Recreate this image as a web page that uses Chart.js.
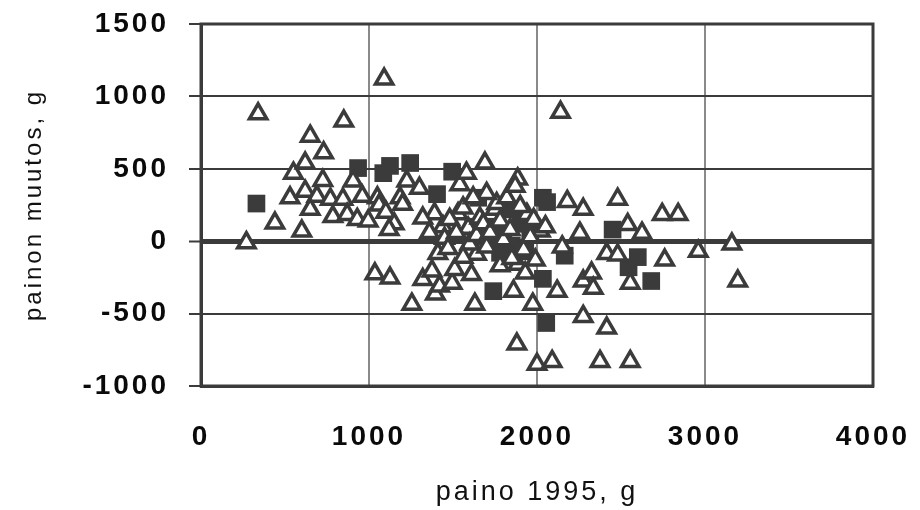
<!DOCTYPE html>
<html>
<head>
<meta charset="utf-8">
<script src="https://cdn.jsdelivr.net/npm/chart.js@4/dist/chart.umd.min.js"></script>
<style>
  html, body { margin: 0; padding: 0; background: #fff; }
  #wrap { width: 920px; height: 510px; }
</style>
</head>
<body>
<div id="wrap"><canvas id="chart"></canvas></div>
<script>
// open triangles: paino 1995 (x) and painon muutos (y)
const triangleX = [270, 340, 440, 600, 530, 550, 620, 650, 620, 690, 730, 725, 770, 650, 785, 845, 850, 870, 905, 930,
  960, 995, 1050, 1090, 1035, 1125, 1060, 1100, 1150, 1120, 1185, 1200, 1225, 1300, 1255, 1320, 1375, 1395, 1390, 1410,
  1420, 1440, 1495, 1510, 1530, 1540, 1580, 1690, 1590, 1610, 1630, 1640, 1660, 1750, 1760, 1885, 1885, 1880, 1930, 1940,
  1860, 1975, 2000, 2090, 2020, 2140, 2120, 2180, 2275, 2255, 2275, 2325, 2335, 2275, 2375, 2415, 2415, 2480, 2480, 2540,
  2555, 2555, 2625, 2745, 2760, 2840, 2960, 3160, 3195,
  1320, 1360, 1450, 1480, 1520, 1560, 1600, 1640, 1680, 1700, 1720, 1780, 1800, 1820, 1840, 1870, 1900, 1920, 1960, 1980,
  1700, 1780, 1560, 1470, 1850, 1990, 1620, 2150, 2050];
const triangleY = [-10, 880, 125, 70, 300, 470, 540, 725, 345, 310, 610, 420, 290, 220, 170, 290, 830, 185, 415, 150,
  310, 140, 300, 1120, -225, -255, 250, 200, 120, 80, 300, 255, 415, 365, -435, -265, -205, -365, 190, -85,
  -310, 100, -290, -195, 190, 390, 470, 540, 90, -230, -435, -90, 160, 220, 260, 430, -160, -710, -220, 185,
  -345, -435, -850, -830, 70, 890, -345, 275, 220, 55, -275, -220, -325, -520, -830, -85, -600, 290, -95, 115,
  -290, -830, 55, 185, -130, 185, -70, -20, -275,
  160, 60, 20, 150, 60, 230, -20, 40, 120, -40, 60, 140, 10, 300, 80, 380, 240, -60, 30, 150,
  330, -170, -110, -50, -120, -130, 300, -40, 100];

// filled squares
const squareX = [330, 935, 1085, 1125, 1245, 1495, 1405, 1650, 1740, 1800, 1850, 1780, 1900, 2035, 2060, 1960,
  2450, 2165, 2600, 2545, 2680, 2035, 1740, 2055, 1700, 1620, 1850, 1930];
const squareY = [260, 505, 470, 520, 540, 480, 325, 300, 100, 50, -30, -80, 120, 300, 270, 60,
  80, -100, -110, -180, -275, -260, -345, -565, 30, 100, 220, -70];

const xTicks = [0, 1000, 2000, 3000, 4000];
const yTicks = [-1000, -500, 0, 500, 1000, 1500];

const INK = "#3b3b3b";
const FONT = "'Liberation Sans', Arial, sans-serif";

const toPoints = (xs, ys) => xs.map((x, i) => ({ x: x, y: ys[i] }));

// wider letter spacing like the scanned original
const spacing = {
  id: "spacing",
  beforeUpdate(chart) { chart.ctx.letterSpacing = "3px"; },
  beforeDraw(chart) { chart.ctx.letterSpacing = "3px"; }
};

// frame around the plot area
const frame = {
  id: "frame",
  afterDatasetsDraw(chart) {
    const { ctx, chartArea: a } = chart;
    ctx.save();
    ctx.strokeStyle = INK;
    ctx.lineWidth = 3;
    ctx.strokeRect(a.left, a.top, a.right - a.left, a.bottom - a.top);
    ctx.restore();
  }
};

const ctx = document.getElementById("chart").getContext("2d");
new Chart(ctx, {
  type: "scatter",
  data: {
    datasets: [
      {
        label: "kolmiot",
        data: toPoints(triangleX, triangleY),
        pointStyle: "triangle",
        pointRadius: 10,
        borderWidth: 3.5,
        borderColor: INK,
        backgroundColor: "#fff"
      },
      {
        label: "neliöt",
        data: toPoints(squareX, squareY),
        pointStyle: "rect",
        pointRadius: 12.5,
        borderWidth: 0,
        borderColor: INK,
        backgroundColor: INK
      }
    ]
  },
  options: {
    responsive: true,
    maintainAspectRatio: false,
    animation: false,
    layout: { padding: { top: 24, right: 47, left: 0, bottom: 0 } },
    plugins: {
      legend: { display: false },
      tooltip: { enabled: false }
    },
    scales: {
      x: {
        type: "linear",
        min: 0,
        max: 4000,
        afterBuildTicks: (scale) => { scale.ticks = xTicks.map(v => ({ value: v })); },
        afterFit: (scale) => {
          scale.height = 124;
          scale.paddingLeft = 0;
          scale.paddingRight = 0;
        },
        ticks: {
          padding: 34,
          color: "#0a0a0a",
          font: { family: FONT, size: 28, weight: "bold" },
          maxRotation: 0,
          callback: (v) => String(v)
        },
        grid: {
          drawTicks: false,
          color: (c) => (c.tick && (c.tick.value === 0 || c.tick.value === 4000)) ? INK : "#8a8a8a",
          lineWidth: 2
        },
        border: { display: true, color: INK, width: 3 },
        title: {
          display: true,
          text: "paino 1995, g",
          color: "#111",
          font: { family: FONT, size: 27 },
          padding: { top: 0, bottom: 1 }
        }
      },
      y: {
        type: "linear",
        min: -1000,
        max: 1500,
        afterBuildTicks: (scale) => { scale.ticks = yTicks.map(v => ({ value: v })); },
        afterFit: (scale) => {
          scale.width = 201;
          scale.paddingTop = 0;
          scale.paddingBottom = 0;
        },
        ticks: {
          padding: 20,
          color: "#0a0a0a",
          font: { family: FONT, size: 28, weight: "bold" },
          callback: (v) => String(v)
        },
        grid: {
          tickLength: 12,
          tickColor: INK,
          tickWidth: 2,
          color: INK,
          lineWidth: (c) => (c.tick && c.tick.value === 0) ? 5 : 2
        },
        border: { display: true, color: INK, width: 3 },
        title: {
          display: true,
          text: "painon muutos, g",
          color: "#111",
          font: { family: FONT, size: 24 },
          padding: { top: 20, bottom: 0 }
        }
      }
    }
  },
  plugins: [spacing, frame]
});
</script>
</body>
</html>
